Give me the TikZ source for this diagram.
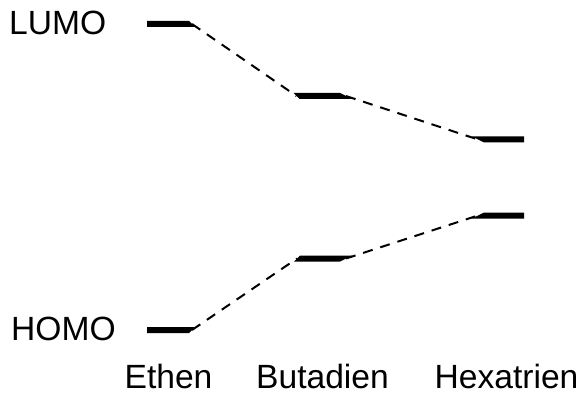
\documentclass[tikz,border=0pt]{standalone}
\usepackage{fontspec}
\setmainfont{Liberation Sans}
\begin{document}
\begin{tikzpicture}[x=1pt,y=1pt,
  lbl/.style={inner sep=0pt,font=\fontsize{33.6}{38}\selectfont},
  levelbar/.style={fill=black},
  conn/.style={line width=2pt,dash pattern=on 10pt off 8pt}]
\useasboundingbox (0,0) rectangle (580,394);
% level end points
\coordinate (eLr) at (192,370);
\coordinate (bLl) at (296.5,298);
\coordinate (bLr) at (346,298);
\coordinate (hLl) at (478,254.5);
\coordinate (eHr) at (192,64);
\coordinate (bHl) at (297,135.5);
\coordinate (bHr) at (346,135.5);
\coordinate (hHl) at (478,178.5);
% bars
\fill[levelbar] (147,373) -- (189,373) -- (195,367) -- (147,367) -- cycle;
\fill[levelbar] (293.5,301) -- (340,301) -- (352,295) -- (299.5,295) -- cycle;
\fill[levelbar] (472,257.5) -- (524,257.5) -- (524,251.5) -- (484,251.5) -- cycle;
\fill[levelbar] (147,67) -- (195,67) -- (189,61) -- (147,61) -- cycle;
\fill[levelbar] (300,138.5) -- (352,138.5) -- (340,132.5) -- (294,132.5) -- cycle;
\fill[levelbar] (484,181.5) -- (524,181.5) -- (524,175.5) -- (472,175.5) -- cycle;
% connectors
\draw[conn] (eLr) -- (bLl);
\draw[conn] (bLr) -- (hLl);
\draw[conn] (eHr) -- (bHl);
\draw[conn] (bHr) -- (hHl);
% labels
\node[lbl,anchor=base west] (lumo) at (9,359) {LUMO};
\node[lbl,anchor=base west] (homo) at (11,54) {HOMO};
\node[lbl,anchor=base] (ethen) at (168.5,6) {Ethen};
\node[lbl,anchor=base] (buta) at (322.5,6) {Butadien};
\node[lbl,anchor=base] (hexa) at (506.5,6) {Hexatrien};
\end{tikzpicture}
\end{document}
